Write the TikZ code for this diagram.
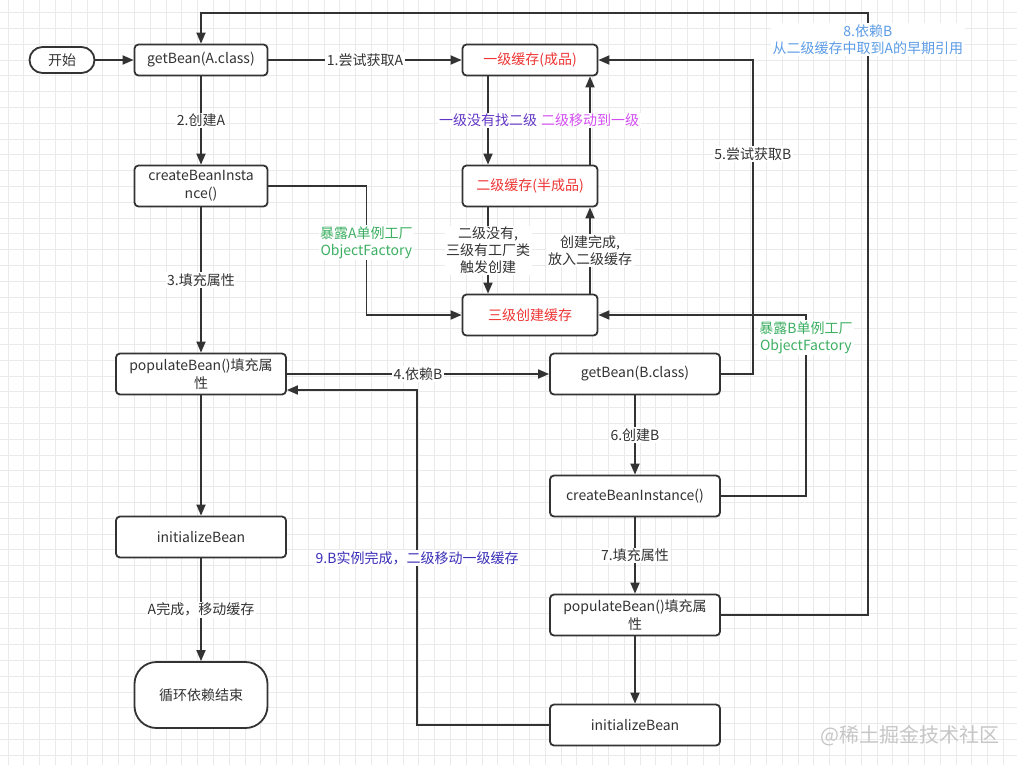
\documentclass[tikz,border=0pt]{standalone}
\usepackage{fontspec}
\setmainfont{Noto Sans CJK SC}
\usetikzlibrary{arrows.meta,positioning}
\definecolor{ink}{HTML}{333333}
\definecolor{cachered}{HTML}{EE3535}
\definecolor{lvone}{HTML}{6236C4}
\definecolor{lvtwo}{HTML}{D24CF0}
\definecolor{expgreen}{HTML}{3DAF62}
\definecolor{depblue}{HTML}{5C9CE6}
\definecolor{doneblue}{HTML}{3A2FB8}
\definecolor{gridgray}{HTML}{EAEAEA}
\tikzset{
  box/.style={draw=ink, rounded corners=4pt, line width=1.8pt, fill=white,
              text=ink, minimum width=133pt, minimum height=31pt, align=center,
              font=\fontsize{14}{18}\selectfont, inner sep=2pt},
  widebox/.style={box, minimum width=170pt, minimum height=41pt},
  cache/.style={box, text=cachered, minimum width=135pt},
  terminal/.style={box, rounded corners=13pt, minimum width=65pt, minimum height=26pt},
  arr/.style={-{Triangle[length=11pt,width=9pt]}, line width=1.8pt, draw=ink},
  lbl/.style={fill=white, text=ink, font=\fontsize{14}{17}\selectfont,
              align=center, inner sep=1.5pt},
  gridline/.style={draw=gridgray, line width=0.7pt}
}

\begin{document}
\begin{tikzpicture}[x=1pt, y=-1pt]
  \useasboundingbox[fill=white] (0,0) rectangle (1034,777);
  % background grid
  \foreach \i in {0,...,63} \draw[gridline] (8+15.8*\i,0) -- (8+15.8*\i,765);
  \foreach \j in {0,...,47} \draw[gridline] (0,12.5+15.8*\j) -- (1017,12.5+15.8*\j);

  % bean A
  \node[terminal] (start) at (62,60) {开始};
  \node[box] (getA) at (201,60) {getBean(A.class)};
  \node[box, minimum height=41pt] (createA) at (201,186) {createBeanInsta\\nce()};
  \node[widebox] (popA) at (201,374) {populateBean()填充属\\性};
  \node[widebox] (initA) at (201,537) {initializeBean};
  \node[box, rounded corners=22pt, minimum height=66pt] (endA) at (201,695) {循环依赖结束};

  % caches
  \node[cache] (lone) at (530,60) {一级缓存(成品)};
  \node[cache, minimum height=41pt] (ltwo) at (530,186) {二级缓存(半成品)};
  \node[cache, minimum height=41pt] (lthree) at (530,315) {三级创建缓存};

  % bean B
  \node[widebox] (getB) at (635,374) {getBean(B.class)};
  \node[widebox] (createB) at (635,496) {createBeanInstance()};
  \node[widebox] (popB) at (635,615) {populateBean()填充属\\性};
  \node[widebox] (initB) at (635,725) {initializeBean};

  \node[text=gray!45, font=\fontsize{20}{20}\selectfont] (mark) at (910,736) {@稀土掘金技术社区};

  \draw[arr] (start) -- (getA);
  \draw[arr] (getA) -- node[lbl] {1.尝试获取A} (lone);
  \draw[arr] (getA) -- node[lbl] {2.创建A} (createA);
  \draw[arr] ([xshift=-42pt]lone.south) -- node[lbl, text=lvone] {一级没有找二级} ([xshift=-42pt]ltwo.north);
  \draw[arr] ([xshift=60pt]ltwo.north) -- node[lbl, text=lvtwo] {二级移动到一级} ([xshift=60pt]lone.south);
  \draw[arr] ([xshift=-42pt]ltwo.south) -- node[lbl] {二级没有,\\三级有工厂类\\触发创建} ([xshift=-42pt]lthree.north);
  \draw[arr] ([xshift=60pt]lthree.north) -- node[lbl] {创建完成,\\放入二级缓存} ([xshift=60pt]ltwo.south);
  \draw[arr] (createA.east) -- ++(98,0) |- node[lbl, text=expgreen, pos=0.22] {暴露A单例工厂\\ObjectFactory} (lthree.west);
  \draw[arr] (createA) -- node[lbl] {3.填充属性} (popA);
  \draw[arr] (popA.east) -- node[lbl] {4.依赖B} (getB.west);
  \draw[arr] (getB.east) -- ++(32,0) |- node[lbl, pos=0.35] {5.尝试获取B} (lone.east);
  \draw[arr] (getB) -- node[lbl] {6.创建B} (createB);
  \draw[arr] (createB.east) -- ++(85,0) |- node[lbl, text=expgreen, pos=0.437] {暴露B单例工厂\\ObjectFactory} (lthree.east);
  \draw[arr] (createB) -- node[lbl] {7.填充属性} (popB);
  \draw[arr] (popB.east) -- ++(147,0) |- node[lbl, text=depblue, pos=0.4775] {8.依赖B\\从二级缓存中取到A的早期引用} ([yshift=31pt]getA.north) -- (getA.north);
  \draw[arr] (popB) -- (initB);
  \draw[arr] (initB.west) -- ++(-132,0) |- node[lbl, text=doneblue, pos=0.249] {9.B实例完成，二级移动一级缓存} ([yshift=-16pt]popA.east);
  \draw[arr] (popA) -- (initA);
  \draw[arr] (initA) -- node[lbl] {A完成，移动缓存} (endA);
\end{tikzpicture}
\end{document}
